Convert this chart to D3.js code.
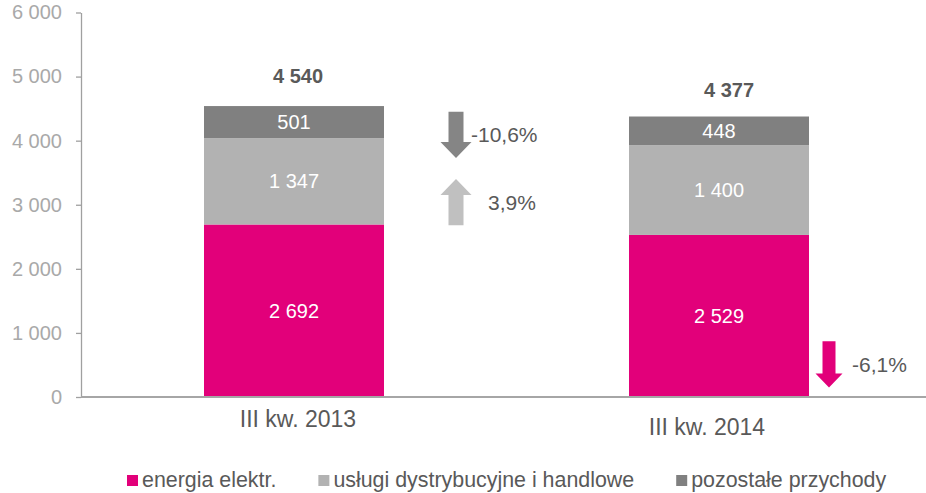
<!DOCTYPE html>
<html>
<head>
<meta charset="utf-8">
<script src="https://cdn.jsdelivr.net/npm/d3@7"></script>
<style>
  html, body { margin: 0; padding: 0; background: #fff; }
  svg { display: block; font-family: "Liberation Sans", Arial, sans-serif; }
</style>
</head>
<body>
<svg id="chart" width="926" height="493"></svg>
<script>
// ---- data ----
const categories = ["III kw. 2013", "III kw. 2014"];
const seriesNames = ["energia elektr.", "usługi dystrybucyjne i handlowe", "pozostałe przychody"];
const energia = [2692, 2529];
const uslugi = [1347, 1400];
const pozostale = [501, 448];
const totals = [4540, 4377];
const yTicks = [0, 1000, 2000, 3000, 4000, 5000, 6000];

// ---- styles / layout ----
const colors = ["#e2007a", "#b2b2b2", "#808080"];
const arrowColors = ["#e2007a", "#c0c0c0", "#858585"];
const textDark = "#595959";
const W = 926, H = 493;

const loc = d3.formatLocale({decimal: ",", thousands: " ", grouping: [3], currency: ["", ""], minus: "-"});
const fmt = loc.format(",");
const pct = loc.format(".1%");

const svg = d3.select("#chart");

const y = d3.scaleLinear().domain([0, 6000]).range([397, 12.5]);
const x = d3.scaleBand().domain(categories).range([81, 932])
  .paddingInner(0.5765).paddingOuter(0.2894);

// y axis
const yAxis = svg.append("g").attr("transform", "translate(81,0)")
  .call(d3.axisLeft(y).tickValues(yTicks).tickFormat(fmt).tickSize(5).tickSizeOuter(0).tickPadding(14));
yAxis.select(".domain").attr("stroke", "#a0a0a0").attr("stroke-width", 1.3);
yAxis.selectAll(".tick line").attr("stroke", "#a0a0a0").attr("stroke-width", 1.3);
yAxis.selectAll(".tick text").attr("fill", "#a9a9a9").attr("font-size", 20)
  .attr("font-family", "\"Liberation Sans\", Arial, sans-serif");

// stacked data
const stackData = categories.map((c, i) => ({cat: c, s0: energia[i], s1: uslugi[i], s2: pozostale[i]}));
const stack = d3.stack().keys(["s0", "s1", "s2"])(stackData);

const layers = svg.append("g").selectAll("g").data(stack).join("g")
  .attr("fill", (d, i) => colors[i]);
layers.selectAll("rect").data(d => d).join("rect")
  .attr("x", d => x(d.data.cat))
  .attr("width", x.bandwidth())
  .attr("y", d => y(d[1]))
  .attr("height", d => y(d[0]) - y(d[1]));

// segment labels
layers.selectAll("text").data(d => d).join("text")
  .attr("x", d => x(d.data.cat) + x.bandwidth() / 2)
  .attr("y", d => (y(d[0]) + y(d[1])) / 2 + 7)
  .attr("text-anchor", "middle")
  .attr("fill", "#fff")
  .attr("font-size", 20)
  .text(d => fmt(d[1] - d[0]));

// x baseline
svg.append("line").attr("x1", 81).attr("x2", W).attr("y1", y(0)).attr("y2", y(0))
  .attr("stroke", "#a6a6a6").attr("stroke-width", 2);

// category labels
const catDx = [4, -12], catY = [427, 435];
svg.append("g").selectAll("text").data(categories).join("text")
  .attr("x", (d, i) => x(d) + x.bandwidth() / 2 + catDx[i])
  .attr("y", (d, i) => catY[i])
  .attr("text-anchor", "middle")
  .attr("fill", textDark)
  .attr("font-size", 23)
  .text(d => d);

// totals
const totDx = [4, 10], totDy = [-23, -19.5];
svg.append("g").selectAll("text").data(totals).join("text")
  .attr("x", (d, i) => x(categories[i]) + x.bandwidth() / 2 + totDx[i])
  .attr("y", (d, i) => y(d) + totDy[i])
  .attr("text-anchor", "middle")
  .attr("fill", textDark)
  .attr("font-size", 20)
  .attr("font-weight", "bold")
  .text(d => fmt(d));

// change arrows
const changes = [
  {v: pozostale[1] / pozostale[0] - 1, cx: 456, top: 4450, bot: 3730, color: arrowColors[2], shaft: 15, head: 31, hl: 16, tx: 471},
  {v: uslugi[1] / uslugi[0] - 1, cx: 456, top: 3400, bot: 2680, color: arrowColors[1], shaft: 15, head: 31, hl: 16, tx: 488},
  {v: energia[1] / energia[0] - 1, cx: 829, top: 870, bot: 150, color: arrowColors[0], shaft: 13, head: 27, hl: 14, tx: 852}
];
function arrowPath(a) {
  const t = y(a.top), b = y(a.bot), s = a.shaft / 2, h = a.head / 2, c = a.cx;
  if (a.v < 0) {
    const hs = b - a.hl;
    return `M${c - s},${t}L${c + s},${t}L${c + s},${hs}L${c + h},${hs}L${c},${b}L${c - h},${hs}L${c - s},${hs}Z`;
  } else {
    const hs = t + a.hl;
    return `M${c},${t}L${c + h},${hs}L${c + s},${hs}L${c + s},${b}L${c - s},${b}L${c - s},${hs}L${c - h},${hs}Z`;
  }
}
const ag = svg.append("g");
ag.selectAll("path").data(changes).join("path")
  .attr("d", arrowPath).attr("fill", d => d.color);
ag.selectAll("text").data(changes).join("text")
  .attr("x", d => d.tx)
  .attr("y", d => (y(d.top) + y(d.bot)) / 2 + 7.5)
  .attr("fill", textDark)
  .attr("font-size", 21)
  .text(d => pct(d.v));

// legend
const lg = svg.append("g");
let lx = 127;
seriesNames.forEach((name, i) => {
  lg.append("rect").attr("x", lx).attr("y", 475).attr("width", 11).attr("height", 11).attr("fill", colors[i]);
  const t = lg.append("text").attr("x", lx + 15).attr("y", 487)
    .attr("fill", textDark).attr("font-size", 21.4).text(name);
  lx += 15 + t.node().getComputedTextLength() + 42;
});
</script>
</body>
</html>
